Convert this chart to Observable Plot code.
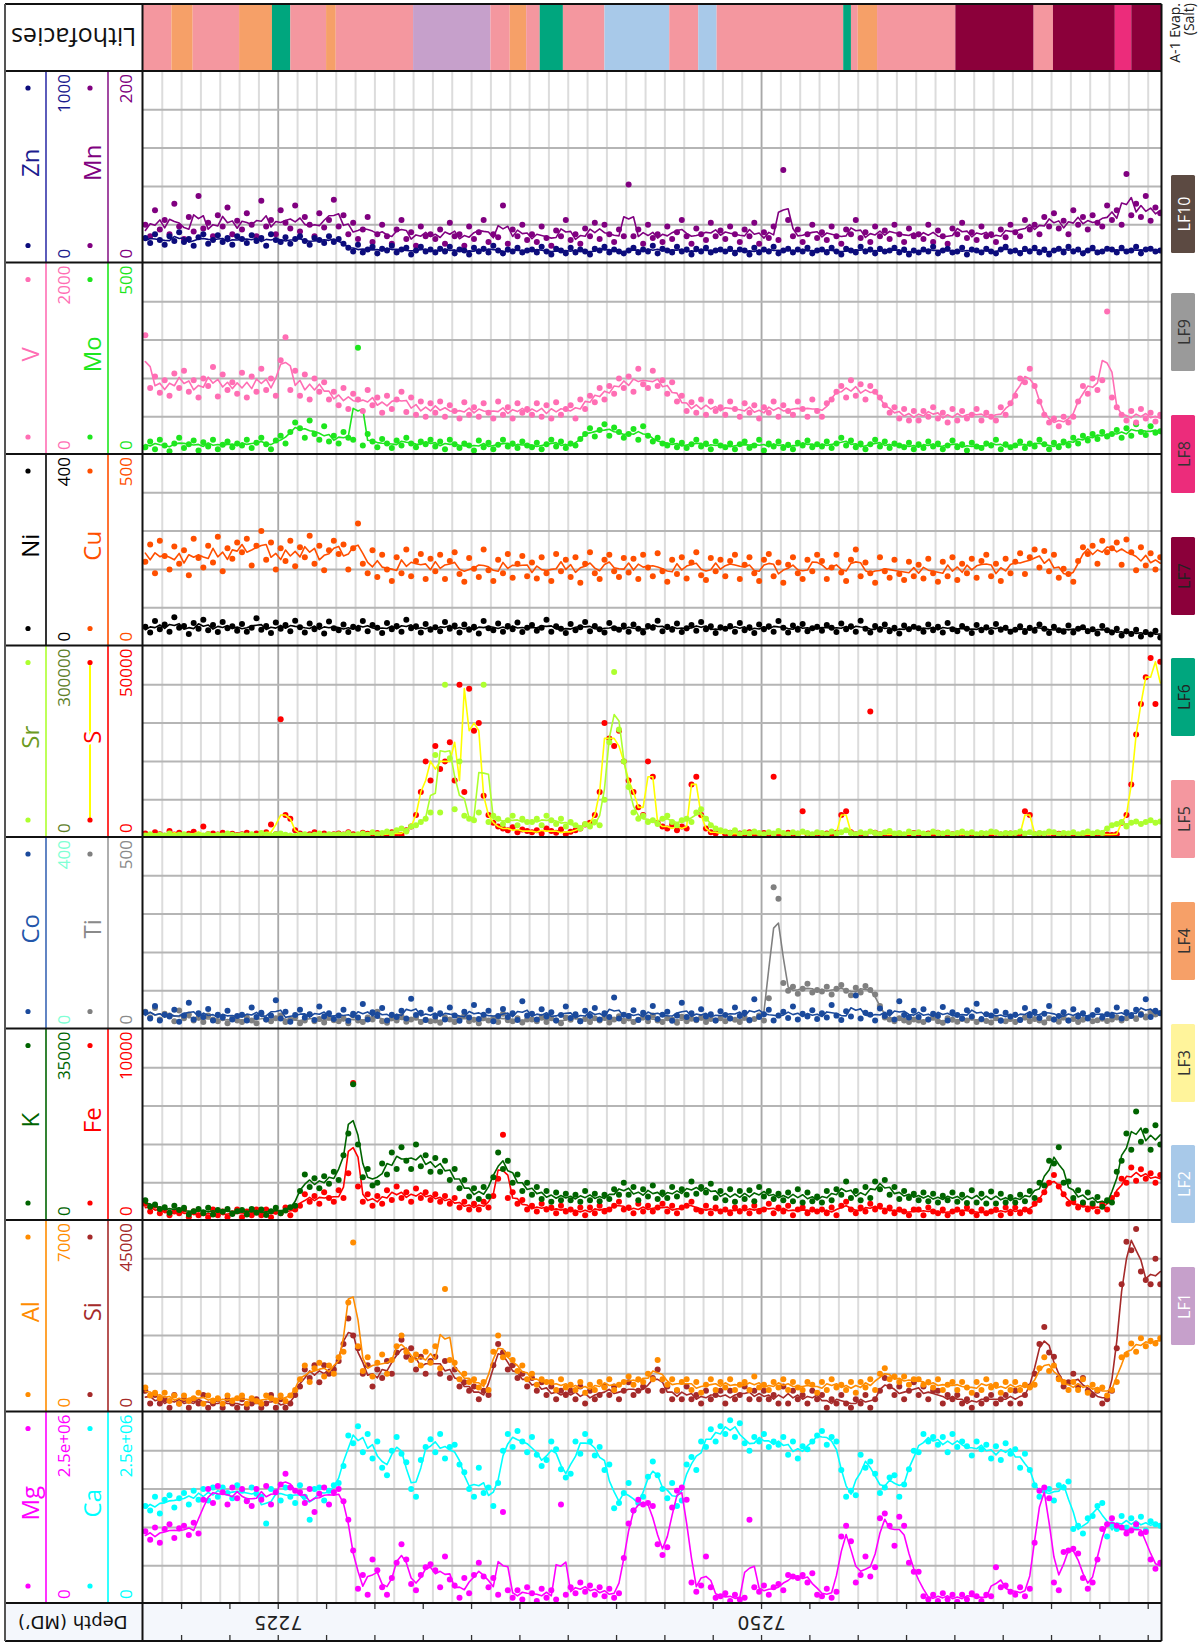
<!DOCTYPE html>
<html>
<head>
<meta charset="utf-8">
<script src="https://cdn.jsdelivr.net/npm/d3@7"></script>
<script src="https://cdn.jsdelivr.net/npm/@observablehq/plot@0.6"></script>
<style>
html,body{margin:0;padding:0;background:#fff;}
#fig{position:relative;width:1199px;height:1643px;overflow:hidden;font-family:"Open Sans",sans-serif;background:#fff;}
#fig > svg{position:absolute;}
</style>
</head>
<body>
<div id="fig"></div>
<script>
// ================= DATA =================
// one sample every 0.25 ft, first sample at 7218.125 ft MD
const depthStart = 7218.125, depthStep = 0.25;

// Mg, Ca in units of 1e4 ppm
const mg_1e4 = [
95,84,100,80,98,104,86,99,102,90,106,92,136,150,132,154,146,130,152,138,
150,134,128,150,136,154,130,146,156,170,152,148,146,132,150,120,144,152,130,146,
150,134,110,70,20,38,12,58,44,22,12,34,54,78,58,26,18,38,48,52,
44,22,62,32,24,8,34,14,38,54,36,22,34,12,120,18,8,18,6,22,
14,4,20,8,18,6,130,12,22,14,28,16,24,12,22,10,20,8,14,60,
105,122,136,130,132,128,78,64,74,126,148,152,136,28,16,24,62,22,8,10,
14,4,12,6,8,110,22,16,24,12,22,26,18,38,36,34,38,28,40,12,
10,20,8,16,88,102,82,28,38,62,36,48,112,118,102,76,114,102,54,42,
42,10,6,12,4,14,6,12,3,12,6,14,10,4,12,10,48,22,24,16,
12,22,10,20,80,148,152,138,28,18,68,70,72,66,34,20,28,58,98,104,
112,102,100,92,96,104,92,94,58,46,54];
const ca_1e4 = [
128,122,140,118,136,142,126,138,145,130,148,136,150,135,152,140,152,145,138,155,
148,135,152,144,140,105,150,146,135,152,140,132,155,140,110,150,152,135,148,155,
158,180,220,210,232,198,222,190,212,178,168,200,218,196,185,150,140,188,205,215,
198,222,190,205,208,182,172,150,140,178,145,152,128,158,200,222,205,226,212,198,
218,195,180,188,212,202,176,165,170,212,196,222,212,194,205,175,182,125,132,145,
158,122,132,140,166,186,168,150,138,158,128,135,182,192,175,212,205,228,212,232,
222,240,218,236,210,200,218,212,222,205,212,208,218,195,212,190,206,202,212,220,
226,208,218,212,175,140,148,142,195,178,186,170,145,152,165,168,140,156,176,200,
198,222,212,218,208,218,198,222,205,212,206,194,212,202,208,190,206,188,210,196,
202,178,196,175,155,140,148,150,135,155,152,160,98,102,92,112,115,128,132,88,
104,98,115,100,112,100,114,96,108,104,102];
// Al in units of 100 ppm, Si in units of 1000 ppm
const al_100 = [
9,6,7,5,7,4,6,3,6,4,5,7,3,6,4,5,3,6,4,5,
6,3,5,4,3,6,5,4,6,4,6,8,12,17,11,16,18,13,17,14,
20,22,40,62,24,15,20,13,18,21,14,19,24,28,22,19,21,17,22,18,
24,16,45,19,18,12,14,11,12,9,11,8,22,28,20,21,19,15,17,12,
14,10,12,11,11,8,12,9,10,8,11,7,10,8,11,9,12,8,10,11,
13,10,12,11,14,12,19,12,10,12,8,11,12,8,11,7,10,12,8,11,
9,12,8,10,11,8,13,9,10,8,11,9,12,8,11,9,8,11,10,7,
11,8,12,9,10,8,11,7,11,9,12,8,14,16,12,13,11,13,10,12,
12,10,11,9,12,8,10,11,8,11,9,7,11,8,12,9,10,7,11,8,
11,8,10,9,10,16,20,15,17,12,11,8,11,8,12,7,10,8,9,6,
8,11,20,21,25,22,27,24,26,25,27];
const si_1000 = [
5,2,4,2,3,1,4,2,3,1,3,2,4,1,2,3,1,3,2,1,
3,1,2,3,1,2,4,1,3,1,2,4,6,10,8,11,7,11,9,10,
12,16,22,18,15,9,11,6,10,8,12,9,14,17,13,15,10,13,9,12,
13,9,12,8,10,6,7,5,6,3,5,4,11,16,14,10,11,8,9,6,
8,5,7,4,6,3,5,4,5,3,6,2,5,3,4,6,4,6,3,5,
7,4,5,6,5,8,10,5,6,3,5,3,6,3,4,2,5,3,4,5,
2,5,3,4,6,3,5,3,5,3,4,2,6,2,5,3,4,2,5,3,
4,1,3,2,4,2,1,3,2,4,1,3,5,8,6,4,6,3,5,7,
4,6,3,5,5,2,4,3,4,2,3,1,4,2,3,4,2,3,4,2,
5,2,4,6,9,16,20,14,13,8,6,7,9,6,8,5,4,5,2,3,
5,15,30,40,38,43,33,31,30,36,30];
// K, Fe in units of 100 ppm
const k_100 = [
38,26,30,22,25,15,28,20,24,12,18,22,14,24,12,20,17,22,13,18,
20,12,22,15,21,11,18,24,14,19,25,28,55,85,62,78,60,82,68,90,
75,120,160,250,140,80,95,65,70,105,85,125,95,135,110,95,140,100,120,90,
115,90,110,75,95,60,75,45,60,40,62,45,80,125,95,110,70,85,55,70,
48,62,40,55,35,52,38,50,38,48,35,55,38,50,36,48,40,58,48,70,
48,62,38,58,45,65,40,52,42,62,45,58,48,72,50,62,52,68,42,55,
38,58,35,55,40,56,36,62,45,55,40,50,38,52,36,58,34,52,36,45,
34,55,38,58,48,72,42,55,38,62,42,72,58,75,48,62,40,55,42,50,
38,52,36,50,34,46,38,52,35,48,33,56,34,50,32,54,32,50,34,44,
34,48,36,55,42,70,65,110,105,135,70,72,42,56,34,52,32,44,26,38,
34,90,110,160,130,200,145,165,130,175,140];
const fe_100 = [
9,5,8,4,6,3,5,4,6,2,5,3,4,2,6,3,5,2,4,6,
2,5,3,6,3,6,2,5,4,7,3,6,8,14,10,13,9,15,12,10,
16,12,25,72,18,10,14,8,13,9,16,11,18,12,15,10,17,12,15,11,
14,10,13,9,12,7,10,6,9,6,10,7,13,22,45,12,15,9,11,6,
8,5,9,6,7,4,8,5,6,4,7,3,7,4,8,5,6,8,10,6,
7,4,9,5,8,5,7,9,5,8,4,7,8,10,6,5,8,4,7,5,
6,4,7,5,7,4,8,5,6,9,4,7,5,8,3,6,7,4,6,5,
6,4,7,3,8,10,6,4,7,5,9,6,8,5,7,4,6,5,3,6,
6,3,7,5,4,6,3,5,6,4,7,5,3,6,4,5,6,3,7,4,
7,4,6,5,9,11,15,20,24,18,14,9,10,7,9,6,8,5,9,6,
12,14,22,20,28,21,27,22,25,20,24];
// Co, Ti in ppm
const co = [
35,22,48,18,30,26,40,15,28,55,20,33,25,42,18,30,24,38,20,27,
30,18,45,25,34,20,28,60,22,36,15,29,40,24,31,19,47,26,33,21,
28,40,17,32,24,52,20,35,27,44,18,30,25,38,22,63,29,34,19,41,
26,33,20,45,28,17,36,24,50,21,30,38,16,27,42,25,33,19,58,28,
32,20,41,26,35,18,29,47,23,31,16,38,27,44,20,33,25,66,22,30,
27,39,19,34,24,48,21,30,36,17,28,55,25,33,20,41,26,31,18,37,
29,22,45,27,34,19,62,25,31,40,18,28,36,23,47,20,32,26,39,21,
33,24,50,28,19,37,26,70,22,34,30,18,43,27,35,20,58,29,24,38,
25,41,20,32,27,46,18,35,29,22,39,26,53,21,31,28,37,17,34,26,
30,19,44,28,36,23,32,48,20,27,35,18,41,26,33,22,29,39,24,31,
28,45,22,35,27,40,30,62,25,38,33];
const ti = [
45,30,55,25,40,35,20,48,28,38,22,30,18,35,25,20,32,15,28,22,
18,30,22,15,40,25,20,28,35,18,24,30,15,22,38,20,26,17,30,23,
20,28,15,35,22,18,30,25,45,20,16,28,22,33,19,25,30,18,24,20,
22,16,30,25,18,28,35,20,24,15,30,22,27,18,40,23,20,28,17,25,
25,20,32,18,28,22,15,30,24,35,20,26,18,28,22,30,17,25,33,20,
28,18,24,30,20,35,22,18,28,25,16,32,20,27,23,30,18,26,22,28,
20,28,24,18,30,22,26,35,22,80,370,340,120,100,110,92,105,118,95,102,
98,110,90,105,115,100,88,108,95,112,102,90,60,30,25,20,28,22,18,25,
22,18,25,30,20,16,28,24,19,26,22,30,18,25,21,17,28,23,20,26,
18,24,30,20,26,22,17,28,25,19,31,22,26,18,24,29,20,23,27,21,
25,30,22,28,35,26,40,30,45,38,42];
// Sr in units of 1000 ppm, S in units of 100 ppm
const sr_1000 = [
4,6,3,5,4,7,3,5,6,4,3,5,4,6,3,5,4,7,5,4,
5,4,6,3,8,5,4,6,7,5,4,3,5,6,4,5,7,4,6,5,
6,5,8,4,6,7,5,9,6,8,10,7,12,15,10,18,20,25,30,40,
130,40,240,125,45,120,35,30,28,40,240,25,35,30,22,28,35,20,30,25,
25,30,20,35,28,22,30,18,25,20,15,22,18,25,20,60,150,260,170,120,
80,40,30,35,25,28,22,30,35,25,20,28,30,25,40,45,30,20,15,12,
10,8,12,6,9,7,10,8,6,9,7,11,8,6,9,7,10,8,6,9,
8,6,10,7,9,12,8,6,9,7,10,8,6,9,11,7,8,6,10,7,
9,7,6,10,8,7,9,6,8,10,7,9,6,8,7,10,9,6,8,7,
8,10,7,9,6,8,7,10,9,6,8,7,9,6,8,10,7,9,8,15,
20,22,25,18,24,26,22,25,28,24,26];
const s_100 = [
12,8,15,10,6,18,9,14,7,11,16,8,30,10,12,9,14,6,11,8,
10,14,7,12,9,15,35,10,310,60,50,20,12,8,10,15,9,12,7,10,
12,9,15,10,8,14,11,7,13,9,10,15,12,8,20,30,60,120,200,150,
240,180,200,250,150,400,120,390,280,300,110,60,40,30,25,20,28,15,22,18,
15,20,12,25,18,14,22,10,16,20,25,35,40,60,120,300,260,240,280,200,
150,120,80,60,200,160,40,30,25,35,20,30,25,140,160,60,25,15,12,18,
10,14,8,12,9,15,11,7,13,10,160,12,8,14,9,11,70,10,8,12,
9,12,8,14,60,70,15,10,12,8,330,14,10,9,12,8,11,7,10,13,
10,8,12,9,14,7,11,10,8,13,9,12,7,10,11,8,14,9,10,12,
9,11,70,60,10,12,8,14,9,11,7,10,12,8,9,11,10,7,12,9,
8,10,40,60,140,270,350,420,470,350,460];
// Ni, Cu in ppm
const ni = [
40,28,52,35,45,30,60,38,42,25,48,36,55,33,44,29,50,37,41,32,
46,30,38,58,34,42,27,49,36,44,31,53,39,28,47,35,43,26,51,37,
33,45,29,40,36,52,31,44,38,27,48,35,42,30,55,37,41,28,46,34,
39,31,50,36,43,28,45,34,40,26,52,37,33,47,30,42,35,49,29,38,
44,32,38,55,30,41,36,27,46,33,39,50,31,42,35,28,48,37,34,43,
30,45,36,28,42,38,53,31,40,34,47,29,37,44,32,50,35,41,27,39,
36,42,30,48,33,39,27,45,35,41,30,52,38,28,43,34,46,31,37,40,
32,44,38,29,47,35,41,30,53,36,28,42,34,45,31,38,26,43,35,40,
37,30,45,33,40,28,48,35,31,42,36,27,44,33,39,29,46,34,38,30,
34,41,29,38,32,45,36,27,40,33,30,43,28,36,39,31,35,26,42,33,
28,36,22,31,25,34,20,29,24,32,18];
const cu = [
220,265,190,275,235,200,260,215,250,185,280,230,205,262,218,285,195,255,228,270,
245,280,210,262,300,225,270,200,255,222,275,208,258,232,288,215,262,198,250,275,
240,265,200,255,320,215,190,250,180,238,200,170,232,190,252,182,222,240,175,228,
195,238,175,222,245,188,168,230,202,180,252,198,170,225,190,240,178,215,235,182,
218,176,232,190,170,240,195,225,180,232,165,215,245,190,175,225,238,195,180,230,
192,228,175,238,205,182,242,195,168,225,188,232,176,218,245,185,172,230,195,225,
182,222,238,175,212,232,190,170,225,240,182,218,165,212,232,190,175,225,195,238,
222,175,205,238,192,170,225,252,182,218,190,165,232,195,178,225,188,172,220,182,
212,176,228,190,168,220,182,232,172,215,190,228,178,222,238,182,215,170,228,190,
220,242,188,232,252,205,248,195,238,178,202,188,168,222,258,240,262,215,275,245,
255,270,212,278,245,198,258,210,242,200,232];
// V in units of 10 ppm, Mo in ppm
const v_10 = [
125,70,82,65,78,62,85,70,88,66,78,60,80,72,92,61,84,68,76,64,
86,60,82,66,90,68,80,62,99,123,68,88,62,84,58,80,66,76,58,66,
52,70,48,64,58,46,68,52,60,44,62,48,58,66,45,60,42,56,40,54,
44,56,40,52,46,38,55,42,50,40,54,44,38,56,42,50,38,54,44,48,
42,54,40,52,38,55,42,48,52,38,58,48,62,55,70,58,72,64,80,70,
82,66,90,74,70,88,72,78,64,76,56,62,46,55,44,58,42,56,46,50,
42,56,48,40,54,44,52,38,50,44,56,40,52,46,42,56,48,40,58,46,
40,54,58,66,72,60,78,62,74,58,72,66,60,52,44,50,38,48,36,46,
36,46,40,50,38,44,34,48,36,46,38,42,48,36,44,40,36,50,42,54,
62,80,76,90,72,56,42,34,38,30,40,34,40,56,72,64,80,68,78,150,
60,50,42,36,46,34,48,38,44,35,42];
const mo = [
20,35,15,40,25,10,30,45,18,28,38,12,33,22,40,15,27,35,20,30,
25,40,18,32,45,28,15,38,50,30,60,85,70,45,90,55,40,75,35,50,
30,60,45,40,280,25,55,35,20,42,30,18,38,25,45,30,20,35,28,40,
22,35,15,40,28,18,30,25,12,38,20,32,15,27,40,22,30,18,35,25,
20,32,15,28,40,22,35,18,30,25,42,55,70,48,65,80,50,72,60,45,
55,68,40,75,50,35,45,30,25,38,20,32,18,28,40,22,30,15,35,25,
20,30,15,28,35,18,25,40,12,30,22,35,18,27,15,32,25,38,20,28,
22,35,18,30,45,25,38,20,30,15,28,40,22,35,18,30,25,20,32,15,
28,18,35,22,30,15,25,38,20,28,12,32,22,18,30,25,40,15,28,20,
25,35,18,30,22,40,28,15,32,20,35,25,45,30,50,38,55,42,60,48,
55,65,45,70,50,80,60,52,75,58,62];
// Zn, Mn in ppm
const zn = [
130,105,150,120,95,140,115,160,110,125,90,135,150,100,120,145,110,130,95,140,
125,105,145,115,130,90,150,120,110,135,100,125,140,115,95,130,120,105,140,110,
125,100,80,60,95,55,70,85,50,75,65,90,55,70,80,45,65,85,60,70,
55,75,60,85,50,70,65,45,80,60,75,55,90,65,50,70,60,80,55,65,
70,55,85,60,45,75,65,50,80,55,70,60,45,75,65,85,55,70,60,50,
65,80,55,70,60,90,50,75,65,55,85,60,70,45,75,60,80,55,65,70,
60,75,50,70,65,45,80,55,70,60,85,50,65,75,55,70,60,80,50,65,
70,55,80,60,45,75,65,55,85,60,70,50,75,60,65,80,55,70,45,65,
55,70,60,85,50,65,75,55,60,80,45,70,65,55,75,60,50,70,85,60,
65,50,75,60,80,55,70,45,65,75,55,85,60,70,50,65,80,55,60,75,
70,55,80,60,65,85,50,70,75,60,65];
const mn = [
40,28,55,35,45,30,62,38,25,48,33,70,36,42,28,50,38,58,30,44,
35,52,40,28,65,38,45,30,55,42,36,60,33,48,40,28,52,37,45,66,
38,50,30,42,25,35,48,22,30,40,28,20,35,45,25,32,18,38,28,30,
25,35,20,42,28,30,18,38,25,32,45,22,30,27,60,20,35,28,40,24,
30,22,38,26,18,34,28,45,24,30,20,36,28,42,25,40,30,22,35,28,
82,28,35,20,40,26,30,22,38,25,32,45,28,20,36,30,24,42,28,34,
25,38,30,22,35,28,42,20,32,26,38,24,97,45,28,35,22,30,40,26,
32,24,38,28,20,35,30,45,26,32,22,38,28,34,25,40,30,22,36,28,
30,25,40,22,34,28,20,36,30,42,26,32,24,38,28,30,22,35,27,40,
32,28,45,35,40,30,48,38,52,36,44,30,55,40,48,35,50,42,38,60,
45,55,40,93,50,62,48,70,44,58,52];

// Lithofacies intervals (top depth of each interval, ft MD) and code
const facTop = [7218.0,7219.5,7220.6,7223.0,7224.7,7225.65,7227.5,7228.0,7232.0,7236.0,7237.0,7237.85,7238.55,7239.75,7241.9,7245.25,7246.75,7247.7,7254.25,7254.65,7255.0,7256.0,7260.05,7264.1,7265.1,7268.3,7269.15];
const facBaseLast = 7270.8;
const facCode = ["LF5","LF4","LF5","LF4","LF6","LF5","LF4","LF5","LF1","LF5","LF4","LF5","LF6","LF5","LF2","LF5","LF2","LF5","LF6","LF5","LF4","LF5","LF7","LF5","LF7","LF8","LF7"];
const facNames = ["LF1","LF2","LF3","LF4","LF5","LF6","LF7","LF8","LF9","LF10"];
const facColors = ["#c6a0cb","#a8c9e9","#fff49b","#f6a068","#f4979f","#00a67e","#8b003a","#ec2c7b","#9a9a9a","#5c4a42"];
const facTextColors = ["#fff","#fff","#333","#333","#333","#222","#222","#333","#333","#fff"];

// depth axis
const depthTicks = d3.range(7220, 7271, 2.5);
const depthLabels = [7225, 7250];

// ================= LAYOUT =================
const fig = document.getElementById("fig");
const X0 = 142.5, X1 = 1161.5, PW = X1 - X0;
const DMIN = 7218.03, DMAX = 7270.74;
const T0 = 71, TH = 191.5;

const rows = mg_1e4.map((_, i) => ({
  depth: depthStart + i * depthStep,
  mg: mg_1e4[i] * 1e4, ca: ca_1e4[i] * 1e4,
  al: al_100[i] * 100, si: si_1000[i] * 1000,
  k: k_100[i] * 100, fe: fe_100[i] * 100,
  co: co[i], ti: ti[i],
  sr: sr_1000[i] * 1000, s: s_100[i] * 100,
  ni: ni[i], cu: cu[i],
  v: v_10[i] * 10, mo: mo[i],
  zn: zn[i], mn: mn[i]
}));

const tracks = [
  {a:{key:"zn",name:"Zn",max:1000,label:"1000",dot:"#0c0c7c",line:"#0c0c7c",text:"#1c1c8e",axis:"#3434aa",lab:"#1c1c8e"},
   b:{key:"mn",name:"Mn",max:200,label:"200",dot:"#800080",line:"#800080",text:"#800080",axis:"#8b1c8b",lab:"#800080"}},
  {a:{key:"v",name:"V",max:2000,label:"2000",dot:"#ff6eb4",line:"#ff6eb4",text:"#ff6eb4",axis:"#ff6eb4",lab:"#ff6eb4"},
   b:{key:"mo",name:"Mo",max:500,label:"500",dot:"#1ee61e",line:"#1ee61e",text:"#1ee61e",axis:"#1ee61e",lab:"#1ee61e"}},
  {a:{key:"ni",name:"Ni",max:400,label:"400",dot:"#000",line:"#000",text:"#000",axis:"#000",lab:"#000"},
   b:{key:"cu",name:"Cu",max:500,label:"500",dot:"#ff4f00",line:"#ff4f00",text:"#ff4f00",axis:"#ff4f00",lab:"#ff4f00"}},
  {a:{key:"sr",name:"Sr",max:300000,label:"300000",dot:"#adff2f",line:"#adff2f",text:"#6b9a22",axis:"#adff2f",lab:"#5f7f2a"},
   b:{key:"s",name:"S",max:50000,label:"50000",dot:"#ff0000",line:"#ffff00",text:"#ff0000",axis:"#ff0000",lab:"#ff0000",headerLine:"#ffff00",reduce:"median"}},
  {a:{key:"co",name:"Co",max:400,label:"400",dot:"#1b4a9c",line:"#1b4a9c",text:"#2356aa",axis:"#3a66b5",lab:"#7fffd4"},
   b:{key:"ti",name:"Ti",max:500,label:"500",dot:"#808080",line:"#808080",text:"#8a8a8a",axis:"#9a9a9a",lab:"#8a8a8a"}},
  {a:{key:"k",name:"K",max:35000,label:"35000",dot:"#006400",line:"#006400",text:"#006400",axis:"#006400",lab:"#006400"},
   b:{key:"fe",name:"Fe",max:10000,label:"10000",dot:"#ff0000",line:"#ff0000",text:"#ff0000",axis:"#ff0000",lab:"#ff0000"}},
  {a:{key:"al",name:"Al",max:7000,label:"7000",dot:"#ff8c00",line:"#ff8c00",text:"#ff8c00",axis:"#ff8c00",lab:"#ff8c00"},
   b:{key:"si",name:"Si",max:45000,label:"45000",dot:"#a52a2a",line:"#a52a2a",text:"#a52a2a",axis:"#a52a2a",lab:"#a52a2a"}},
  {a:{key:"mg",name:"Mg",max:2500000,label:"2.5e+06",dot:"#ff00ff",line:"#ff00ff",text:"#ff00ff",axis:"#ff00ff",lab:"#ff00ff"},
   b:{key:"ca",name:"Ca",max:2500000,label:"2.5e+06",dot:"#00ffff",line:"#00ffff",text:"#00ffff",axis:"#00ffff",lab:"#00ffff"}}
];

function place(el, left, top) {
  el.style.position = "absolute";
  el.style.left = left + "px";
  el.style.top = top + "px";
  fig.appendChild(el);
}

function seriesPlot(s, h, withGrid) {
  const marks = [];
  if (withGrid) {
    marks.push(Plot.ruleX(d3.range(7219, 7271), {stroke: "#dcdcdc", strokeWidth: 2}));
    marks.push(Plot.ruleX(depthLabels, {stroke: "#a8a8a8", strokeWidth: 1.6}));
    marks.push(Plot.ruleY([0.2, 0.4, 0.6, 0.8].map(f => f * s.max), {stroke: "#b5b5b5", strokeWidth: 2}));
  }
  marks.push(Plot.dot(rows, {x: "depth", y: s.key, r: 3, fill: s.dot, stroke: "none", clip: true}));
  marks.push(Plot.lineY(rows, Plot.windowY({k: 3, reduce: s.reduce || "mean"}, {x: "depth", y: s.key, stroke: s.line, strokeWidth: 1.6, clip: true})));
  return Plot.plot({
    width: PW, height: h, margin: 0,
    x: {domain: [DMIN, DMAX], axis: null},
    y: {domain: [0, s.max], axis: null},
    style: {background: "transparent", overflow: "hidden"},
    marks
  });
}

tracks.forEach((t, i) => {
  const top = T0 + i * TH;
  place(seriesPlot(t.b, TH, true), X0, top);
  place(seriesPlot(t.a, TH, false), X0, top);
});

const facRows = facTop.map((d, i) => ({top: d, base: i < facTop.length - 1 ? facTop[i + 1] : facBaseLast, code: facCode[i]}));
place(Plot.plot({
  width: PW, height: T0 - 4, margin: 0,
  x: {domain: [DMIN, DMAX], axis: null},
  color: {domain: facNames, range: facColors},
  style: {background: "transparent"},
  marks: [Plot.rect(facRows, {x1: "top", x2: "base", fill: "code"})]
}), X0, 4);

const DT = T0 + 8 * TH, DH = 1641 - DT;
place(Plot.plot({
  width: PW, height: DH, margin: 0,
  x: {domain: [DMIN, DMAX], axis: null},
  y: {domain: [0, DH], range: [0, DH], axis: null},
  style: {background: "#f4f7fc"},
  marks: [
    Plot.ruleX(depthTicks, {y1: 0, y2: 6, stroke: "#333", strokeWidth: 1.3}),
    Plot.ruleX(depthTicks, {y1: DH - 6, y2: DH, stroke: "#333", strokeWidth: 1.3}),
    Plot.text(depthLabels, {x: d => d, y: DH / 2, text: d => String(d), rotate: 180, fontSize: 19, fill: "#222", fontFamily: "DejaVu Sans"})
  ]
}), X0, DT);

// ================= DECORATION (frame, headers, legend) =================
const svg = d3.create("svg").attr("width", 1199).attr("height", 1643)
  .style("position", "absolute").style("left", "0px").style("top", "0px")
  .style("font-family", "'Open Sans', sans-serif");

svg.append("rect").attr("x", 5).attr("y", DT).attr("width", X0 - 5).attr("height", DH).attr("fill", "#f4f7fc");

tracks.forEach((t, i) => {
  const top = T0 + i * TH, bot = top + TH, cy = (top + bot) / 2;
  [[t.a, 28, 46, 63], [t.b, 90, 108, 125]].forEach(([s, xd, xl, xt]) => {
    if (s.headerLine) {
      svg.append("line").attr("x1", xd).attr("x2", xd).attr("y1", top + 17).attr("y2", bot - 17)
        .attr("stroke", s.headerLine).attr("stroke-width", 2);
    }
    [top + 17, bot - 17].forEach(y => svg.append("circle").attr("cx", xd).attr("cy", y).attr("r", 2.6).attr("fill", s.dot));
    svg.append("text").attr("transform", `translate(${xd + 1},${cy - 4}) rotate(-90)`)
      .attr("text-anchor", "middle").attr("dominant-baseline", "central")
      .attr("font-size", 24).attr("fill", s.text).attr("paint-order", "stroke")
      .attr("stroke", s.headerLine ? "#fff" : "none").attr("stroke-width", s.headerLine ? 5 : 0)
      .text(s.name);
    svg.append("line").attr("x1", xl).attr("x2", xl).attr("y1", top).attr("y2", bot)
      .attr("stroke", s.axis).attr("stroke-width", 1.6);
    svg.append("text").attr("transform", `translate(${xt},${bot - 4}) rotate(-90)`)
      .attr("text-anchor", "start").attr("dominant-baseline", "central")
      .attr("font-size", 17).attr("fill", s.lab).text("0");
    svg.append("text").attr("transform", `translate(${xt},${top + 3}) rotate(-90)`)
      .attr("text-anchor", "end").attr("dominant-baseline", "central")
      .attr("font-size", 17).attr("fill", s.lab).text(s.label);
  });
});

svg.append("text").attr("transform", `translate(${(5 + X0) / 2},${(4 + T0) / 2}) rotate(180)`)
  .attr("text-anchor", "middle").attr("dominant-baseline", "central")
  .attr("font-size", 25).attr("fill", "#111").text("Lithofacies");
svg.append("text").attr("transform", `translate(${(5 + X0) / 2 - 1},${DT + DH / 2}) rotate(180)`)
  .attr("text-anchor", "middle").attr("dominant-baseline", "central")
  .attr("font-size", 18).attr("font-family", "DejaVu Sans").attr("fill", "#111").text("Depth (MD\u2019)");

const hLines = [4, T0].concat(d3.range(1, 9).map(i => T0 + i * TH)).concat([1641]);
hLines.forEach(y => svg.append("line").attr("x1", 5).attr("x2", X1).attr("y1", y).attr("y2", y)
  .attr("stroke", "#111").attr("stroke-width", 2));
[5, X0, X1].forEach(x => svg.append("line").attr("x1", x).attr("x2", x).attr("y1", 4).attr("y2", 1641)
  .attr("stroke", x === 5 ? "#555" : "#111").attr("stroke-width", 2));

const legendTop = [1267, 1145, 1024, 902, 780, 658, 537, 415, 293, 175]; // LF1..LF10
facNames.forEach((nm, i) => {
  const y = legendTop[i];
  svg.append("rect").attr("x", 1171).attr("y", y).attr("width", 24).attr("height", 78)
    .attr("rx", 1.5).attr("fill", facColors[i]);
  svg.append("text").attr("transform", `translate(1183.5,${y + 39}) rotate(-90)`)
    .attr("text-anchor", "middle").attr("dominant-baseline", "central")
    .attr("font-size", 16).attr("fill", facTextColors[i]).text(nm);
});
svg.append("text").attr("transform", `translate(1174,3) rotate(-90)`)
  .attr("text-anchor", "end").attr("dominant-baseline", "central")
  .attr("font-size", 14).attr("fill", "#222").text("A-1 Evap.");
svg.append("text").attr("transform", `translate(1188,3) rotate(-90)`)
  .attr("text-anchor", "end").attr("dominant-baseline", "central")
  .attr("font-size", 14).attr("fill", "#222").text("(Salt)");

fig.appendChild(svg.node());
</script>
</body>
</html>
